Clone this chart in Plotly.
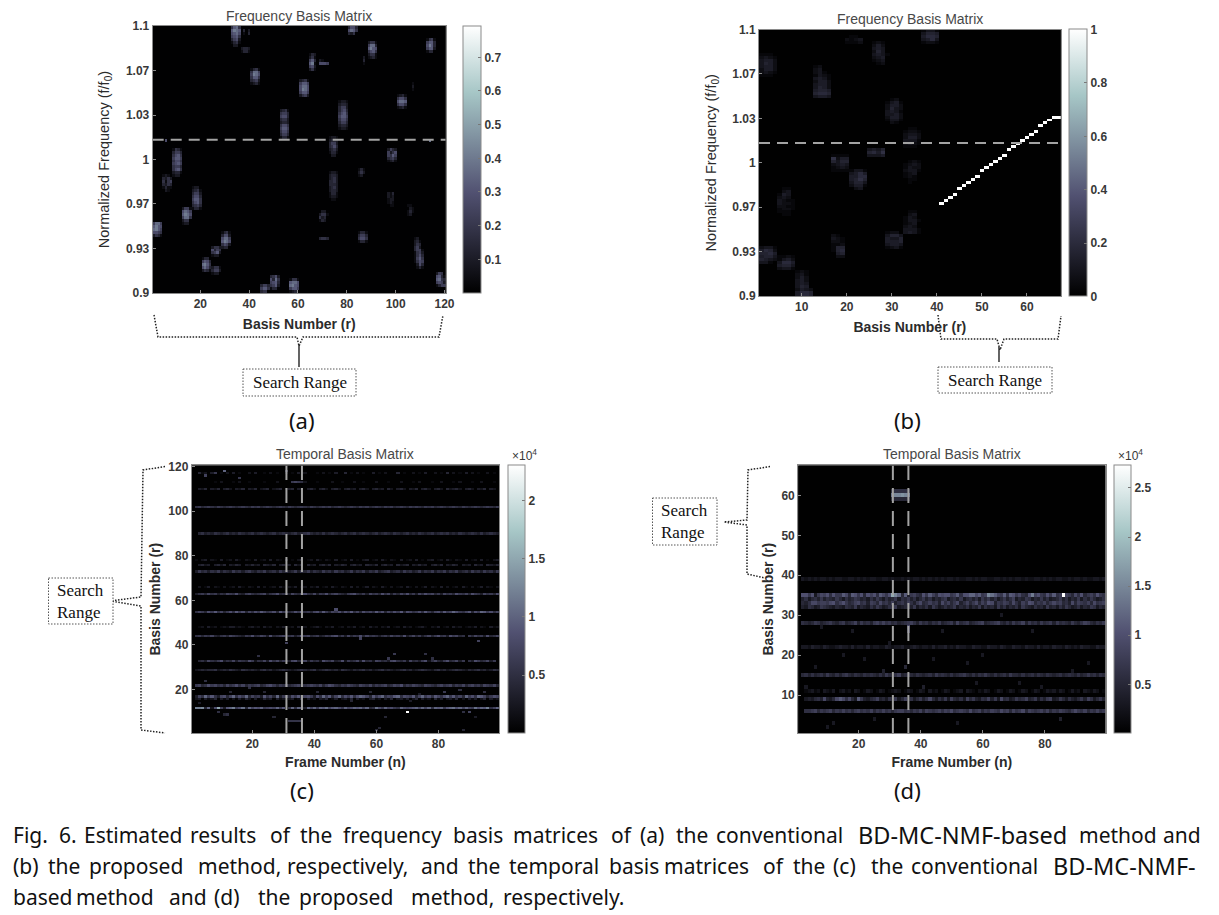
import plotly.graph_objects as go

W, H = 1219, 915

BONE = [[0, "#000000"], [0.375, "#515171"], [0.75, "#a6c6c6"], [1, "#ffffff"]]

# ---------- panel (a): frequency basis, digit = value / 0.045, rows listed top to bottom
A_BLOB_R = [33, 38, 37, 41, 65, 69, 61, 53, 77, 101, 89, 113, 81, 73, 97, 9, 5, 17, 13, 1, 29, 25, 21, 25,
            45, 49, 57, 117, 108, 73, 69, 69, 85, 85, 97, 105, 5, 113, 86, 106]
A_BLOB_BIN = [83, 87, 81, 70, 75, 77, 66, 52, 55, 62, 79, 81, 87, 46, 44, 39, 34, 28, 23, 19, 15, 12, 7, 6,
              0, 1, 0, 2, 8, 31, 24, 18, 17, 39, 29, 26, 51, 51, 77, 68]
A_BLOB_ROWS = [
    ["4784", "7987", "6786", "5674", "3562", "1341", "0220"],
    ["302", "103"],
    ["2332", "1331"],
    ["1341", "4885", "5986", "4774", "3452", "1231"],
    ["1320", "2410", "5730", "7910", "5620", "2410"],
    ["2100", "6665"],
    ["2341", "5775", "6886", "6986", "5775", "2452"],
    ["2341", "4553", "5663", "3442", "2332", "4664", "5775", "4664", "3553", "1331"],
    ["1221", "2332", "3552", "3563", "4674", "5775", "4664", "3553", "2332", "1221"],
    ["1231", "4664", "6887", "4664", "1231"],
    ["2441", "5883", "7976", "4674", "2441", "1231"],
    ["1451", "5773", "6973", "5772", "1330"],
    ["3663", "6874", "3240"],
    ["1221", "2332", "3552", "3463", "2342", "1331", "0220"],
    ["2532", "5246", "5475", "3453", "1231"],
    ["1431", "3553", "4674", "5775", "4664", "5675", "4553", "4674", "2331", "1220"],
    ["1210", "3242", "4145", "3243", "1311", "0210"],
    ["1220", "2341", "3552", "4663", "5774", "4674", "3453", "1331"],
    ["2551", "6875", "7986", "5884", "2440", "1220"],
    ["5885", "7976", "8975", "6654", "2431"],
    ["1341", "3662", "6885", "7986", "4652", "2330"],
    ["2442", "6354", "4572", "1220"],
    ["1330", "5763", "8974", "6863", "2431"],
    ["2441", "3552", "1220"],
    ["3553", "5774", "3440"],
    ["3462", "6384", "5673", "4572", "1330"],
    ["1441", "7886", "8976", "5775", "1230"],
    ["2540", "6731", "7843", "5652", "1355"],
    ["1200", "2310", "2430", "3520", "3551", "1452", "1463", "1574", "1465", "0263", "0131"],
    ["1221", "2332", "2342", "3342", "3332", "2342", "2332", "1331", "1221", "0110"],
    ["0220", "2441", "4230", "1320"],
    ["3443"],
    ["1331", "3553", "4664", "1331"],
    ["1310", "2420", "1200"],
    ["2130", "2120", "1220", "1210", "0110"],
    ["1100", "0210", "1310", "1200"],
    ["06"],
    ["08"],
    ["02", "03", "01"],
    ["01", "02", "01"],
]

# ---------- panel (b): frequency basis, digit = value / 0.032
B_BLOB_R = [1, 13, 37, 20, 26, 29, 33, 25, 17, 21, 33, 5, 33, 29, 17, 1, 5, 9]
B_BLOB_BIN = [74, 67, 85, 85, 78, 58, 50, 47, 42, 36, 38, 27, 21, 16, 13, 11, 9, 0]
B_BLOB_ROWS = [
    ["1110", "2321", "3442", "3542", "3442", "2442", "2321", "1110"],
    ["1200", "2300", "2310", "1321", "3431", "2442", "3442", "3542", "4554", "5665", "3443"],
    ["1331", "3554", "4665", "3463", "1221"],
    ["0110", "2123", "1112"],
    ["1210", "2420", "3430", "2530", "3431", "2340", "1230", "0120"],
    ["0120", "1341", "2442", "2532", "3431", "3342", "2442", "1331", "0210"],
    ["0110", "1221", "2332", "2442", "3331", "2321", "1110"],
    ["3435", "5647", "3334"],
    ["1111", "7244", "5355", "2343", "1232", "1111"],
    ["1331", "3464", "4466", "4575", "3553", "2441", "0230"],
    ["0121", "1232", "1322", "2331", "1230", "1210", "0110", "0100"],
    ["0110", "0230", "1430", "2320", "3211", "3221", "2211", "1221", "1110", "0110"],
    ["0110", "0230", "1320", "1331", "1230", "2320", "3331", "3431"],
    ["1220", "3553", "4335", "4445", "3443", "1231"],
    ["2100", "3210", "2210", "1120", "1550", "1560", "0450", "0220"],
    ["2331", "4652", "5564", "4553", "5432", "3310"],
    ["1121", "1342", "3664", "4553", "2331"],
    ["1210", "2310", "2420", "3420", "3430", "3540", "2432", "4665", "4665"],
]
B_LINE_R = [41, 42, 43, 44, 45, 46, 47, 48, 49, 50, 51, 52, 53, 54, 55, 56, 57, 58, 59, 60, 61, 62, 63, 64, 65, 66, 67]
B_LINE_BIN = [31, 32, 33, 34, 36, 37, 38, 39, 40, 42, 43, 44, 45, 46, 47, 49, 50, 51, 52, 53, 54, 55, 57, 58, 59, 60, 60]
B_LINE_VAL = [1.0] * 27

# ---------- panel (c): temporal basis, digit = value / 0.1 (x 10^4), frames 1-99 (hex)
C_R12 = "0ccd4a28f7 39ac68b4a7 98a6787a69 05a5a93a7a 6a9b79a86a 78a9a7a45b 86a7865a87 89a7a7a5a9 a69ab8a7a7 6b8a9c57a"
C_R17 = "0375a69537 847a586a47 5639574a36 7486957863 85a6947a58 6958a97496 8a5769a587 6947a68597 58a69574a6 85a974687"
C_R16 = "0230312403 1302031420 3014230312 0230140312 0324013023 1403120341 2031402313 0240312041 3023140203 130240312"
C_R22 = "0674586756 4756857465 6745786465 7456745676 5746875465 7654765746 5674576846 5765476546 7567465746 756476574"
C_R29 = "0234344523 4354325434 3245342345 4323454345 2345434254 3243453423 4534323453 4234543245 3423454324 345342354"
C_R33 = "0045375468 3547365486 2547385746 5378457364 5286573482 6457384527 6453785462 7453682574 3684573605 386457360"
C_R44 = "0564657435 6476543658 4576384567 4563586745 6346578463 7465847565 3564756483 5746357468 5638674506 475638457"
C_R48 = "0012031201 2130121023 1203120213 0120312012 3102130120 2130120312 0213012031 2012310213 0120312012 130210312"
C_R55 = "0576486957 4685968475 8697568496 7458695647 8596476858 6957486759 6847586948 7568596478 5967a86579 486a96857"
C_R63 = "0356475635 4765843675 4567356845 6375468547 3658467543 6785463756 4857364758 4637586746 3756486574 865375648"
C_R66 = "0020130210 2012031021 0302012031 0213012021 3012031021 0302013021 0310201203 1020130210 3020120310 201302102"
C_R73 = "0364535463 5436453564 3546345364 5346354635 4364536453 4635463546 3456345364 5346354635 4635463453 645364536"
C_R76 = "0034230342 4032430324 2304324034 2304230423 0342403243 0342304324 0342304234 0324230342 4032430323 042304324"
C_R78 = "0102302103 0120310210 3012030210 3010230120 3102103012 0301023012 0310210301 2030102301 2031021030 120301023"
C_R90 = "0045343543 4534354345 3454345345 4345345643 4353454345 3453454345 3454354345 3435434534 5453435434 543534543"
C_R102 = "0564565465 4565456546 5645654565 4654565465 4565645654 5654656456 5465645654 6565465645 6545654654 565456546"
C_R110 = "0032403240 3420324032 4023402340 2340320342 0342034203 4230342034 2304203420 3240342034 2042342034 203240320"
C_R113 = "0000000102 0001020010 0001000200 0000102000 1000020010 0020010002 0001000200 0102000100 2000102000 100200010"
C_R117 = "0041203601 0203010020 3001020100 2010302000 1020103004 0102010030 1020004010 0201030020 1040201030 201002010"
C_ROWS = [12, 17, 16, 22, 29, 33, 44, 48, 55, 63, 66, 73, 76, 78, 90, 102, 110, 113, 117]
C_STRINGS = [C_R12, C_R17, C_R16, C_R22, C_R29, C_R33, C_R44, C_R48, C_R55, C_R63, C_R66, C_R73, C_R76, C_R78,
             C_R90, C_R102, C_R110, C_R113, C_R117]
C_SPOT_N = [70, 32, 33, 34, 35, 36, 31, 5, 11, 16, 47, 55, 61, 66, 78, 90, 93, 33, 34, 35, 36, 9, 12, 19, 24, 27,
            41, 52, 58, 60, 63, 71, 74, 82, 87, 88, 95, 22, 14, 3, 64, 76, 5, 11, 13, 31, 88, 92]
C_SPOT_R = [10, 6, 6, 6, 6, 6, 118, 116, 118, 115, 56, 43, 3, 36, 34, 10, 42, 113, 113, 113, 113, 10, 9, 21, 19, 8,
            19, 15, 19, 2, 8, 15, 18, 19, 20, 10, 19, 35, 48, 14, 34, 36, 24, 9, 19, 41, 2, 8]
C_SPOT_V = [2.3, 0.55, 0.55, 0.55, 0.55, 0.55, 0.6, 0.7, 1.0, 0.6, 0.8, 0.7, 0.4, 0.6, 0.5, 0.7, 0.7, 0.6, 0.7, 0.6,
            0.5, 0.5, 0.5, 0.5, 0.4, 0.4, 0.4, 0.4, 0.4, 0.4, 0.4, 0.3, 0.3, 0.6, 0.5, 0.5, 0.5, 0.5, 0.3, 0.3, 0.6,
            0.5, 0.5, 0.4, 0.4, 0.7, 0.4, 0.3]

# ---------- panel (d): temporal basis
D_R6 = "0066785767 8576867578 6768576867 5788675768 5876786879 6787696785 7687697858 6795876786 8576876579 768576867"
D_R9 = "0034356494 3594969534 7435684536 4735846357 4695364738 5463857436 5847395634 7568457364 7834753643 574863574"
D_R11 = "0012312032 1302312032 0132013201 2320132013 2031201320 1230321021 3201320132 0132013201 3201320131 203213201"
D_R15 = "0564645647 5464675465 4656546475 4684565465 4564756546 4567546465 7546456475 5464564654 6545645654 645756465"
D_R22 = "0332433243 2234332423 3242332243 2334223432 3324233423 2433224332 2433243224 3324332423 3243324323 243322433"
D_R28 = "0654576456 7546745684 7564786867 5645678647 5646574567 4856745678 4567854647 5684756475 6747565475 468754657"
D_R32 = "0436534765 4354365473 5436475346 5734564735 4637534645 7354635473 6453746354 6375436453 7453647534 635476354"
D_R33 = "0546997887 9a68a75689 6748759675 8467586479 5686749685 7946857958 6a94768759 6486a95768 5797856495 876859678"
D_R34 = "0463564746 5475364576 4536475364 5736574635 7463546735 6473564637 5746357468 3547635474 6345746354 736475346"
D_R35 = "0aa7a3798a 6a77b95ba7 a5a8a6b97a 7fa5b47865 a7b86a9aa7 8b6aacc9b7 8a9b87b6ba 7965ae8a76 a7b6748759 6a5786a76"
D_R39 = "0323232332 3233223323 2323322332 3223232332 3232323233 2322332323 3223323232 3323223323 2323322323 323223323"
D_R59 = "0000000000 0000000000 0000000000 5555550000 0000000000 0000000000 0000000000 0000000000 0000000000 000000000"
D_R60 = "0000000000 0000000000 0000000000 dffgfd0000 0000000000 0000000000 0000000000 0000000000 0000000000 000000000"
D_R61 = "0000000000 0000000000 0000000000 5666650000 0000000000 0000000000 0000000000 0000000000 0000000000 000000000"
D_ROWS = [6, 9, 11, 15, 22, 28, 32, 33, 34, 35, 39, 59, 60, 61]
D_STRINGS = [D_R6, D_R9, D_R11, D_R15, D_R22, D_R28, D_R32, D_R33, D_R34, D_R35, D_R39, D_R59, D_R60, D_R61]
D_SPOT_N = [86, 31, 62, 63, 14, 20, 36, 36, 33, 12, 25, 41, 8, 18, 44, 55, 60, 72, 85, 6, 28, 30, 47, 66, 79, 89, 94,
            10, 22, 52, 35, 3, 15, 58, 76, 83]
D_SPOT_R = [35, 35, 35, 35, 9, 9, 27, 26, 35, 3, 4, 12, 27, 26, 19, 18, 20, 13, 4, 17, 16, 23, 26, 30, 12, 16, 18,
            2, 19, 3, 17, 12, 20, 13, 26, 11]
D_SPOT_V = [2.72, 1.8, 1.5, 1.3, 1.1, 1.1, 0.9, 0.8, 1.2, 0.3, 0.3, 0.4, 0.3, 0.3, 0.3, 0.3, 0.3, 0.3, 0.4, 0.3, 0.4,
            0.3, 0.3, 0.3, 0.3, 0.3, 0.3, 0.3, 0.3, 0.3, 0.5, 0.3, 0.3, 0.3, 0.3, 0.3]

# tick labels and annotations
FREQ_TICKS = [0.9, 0.9333, 0.9667, 1.0, 1.0333, 1.0667, 1.1]
FREQ_LABELS = ["0.9", "0.93", "0.97", "1", "1.03", "1.07", "1.1"]
A_CB_TICKS = [0.1, 0.2, 0.3, 0.4, 0.5, 0.6, 0.7]
B_CB_TICKS = [0, 0.2, 0.4, 0.6, 0.8, 1]
C_CB_TICKS = [0.5, 1, 1.5, 2]
D_CB_TICKS = [0.5, 1, 1.5, 2, 2.5]
FREQ_DASH = 1.0148
FRAME_DASH = [31, 36]

CAPTION_WORDS = [
    ["Fig.", "6.", "Estimated", "results", "of", "the", "frequency", "basis", "matrices", "of", "(a)", "the",
     "conventional", "BD-MC-NMF-based", "method", "and"],
    ["(b)", "the", "proposed", "method,", "respectively,", "and", "the", "temporal", "basis", "matrices", "of",
     "the", "(c)", "the", "conventional", "BD-MC-NMF-"],
    ["based", "method", "and", "(d)", "the", "proposed", "method,", "respectively."],
]
CAPTION_X = [
    [12, 58, 83, 189, 269, 299, 342, 452, 512, 610, 639, 675, 715, 857, 1078, 1162],
    [12, 47, 88, 197, 286, 420, 467, 508, 608, 663, 762, 792, 832, 870, 910, 1052],
    [12, 75, 168, 213, 257, 298, 410, 502],
]
CAPTION_Y = [835, 866, 897]

# ---------- helpers
def px(x):
    return x / W

def py(y):
    return 1 - y / H

def blobs(nr, nb, rs, bins, rows_list, unit):
    z = [[0.004 for _ in range(nr)] for _ in range(nb)]
    for r0, b0, rows in zip(rs, bins, rows_list):
        top = b0 + len(rows) - 1
        for i, row in enumerate(rows):
            for j, ch in enumerate(row):
                rr, bb = r0 - 1 + j, top - i
                if 0 <= rr < nr and 0 <= bb < nb:
                    z[bb][rr] = max(z[bb][rr], int(ch) * unit)
    return z

def temporal(nf, nr, rows, strings, sn, sr, sv):
    z = [[0.01 for _ in range(nf)] for _ in range(nr)]
    for r, s in zip(rows, strings):
        s = s.replace(" ", "")
        for j, ch in enumerate(s[:nf]):
            z[r - 1][j] = max(0.01, int(ch, 36) * 0.1)
    for n, r, v in zip(sn, sr, sv):
        z[r - 1][n - 1] = v
    return z

Z_A = blobs(120, 90, A_BLOB_R, A_BLOB_BIN, A_BLOB_ROWS, 0.045)
Z_B = blobs(67, 90, B_BLOB_R, B_BLOB_BIN, B_BLOB_ROWS, 0.032)
for r, b, v in zip(B_LINE_R, B_LINE_BIN, B_LINE_VAL):
    Z_B[b][r - 1] = v
Z_C = temporal(99, 120, C_ROWS, C_STRINGS, C_SPOT_N, C_SPOT_R, C_SPOT_V)
Z_D = temporal(99, 67, D_ROWS, D_STRINGS, D_SPOT_N, D_SPOT_R, D_SPOT_V)

PANELS = [
    dict(name="a", box=(152.7, 445.7, 26, 293), cb=(463, 480.7), z=Z_A, zr=(0.0, 0.793), cbt=A_CB_TICKS,
         xr=(0.5, 120.5), yr=(0.9, 1.1), freq=True),
    dict(name="b", box=(759, 1060.7, 29.5, 296), cb=(1069, 1086.5), z=Z_B, zr=(0.0, 1.0), cbt=B_CB_TICKS,
         xr=(0.5, 67.5), yr=(0.9, 1.1), freq=True),
    dict(name="c", box=(191.8, 499, 465.4, 733), cb=(507.5, 524), z=Z_C, zr=(0.0, 2.3), cbt=C_CB_TICKS,
         xr=(0.5, 99.5), yr=(0.5, 120.5), freq=False),
    dict(name="d", box=(798.2, 1105.5, 465.4, 733), cb=(1113.6, 1131), z=Z_D, zr=(0.0, 2.73), cbt=D_CB_TICKS,
         xr=(0.5, 99.5), yr=(0.5, 67.5), freq=False),
]

TICK_FONT = dict(family="Liberation Sans", size=12, color="#383838", weight=700)
fig = go.Figure()
layout = dict(
    width=W, height=H, margin=dict(l=0, r=0, t=0, b=0, autoexpand=False),
    paper_bgcolor="white", plot_bgcolor="black", showlegend=False,
    font=dict(family="Liberation Sans", color="#383838"),
)
shapes, annotations = [], []

for k, p in enumerate(PANELS, start=1):
    x0, x1, y0, y1 = p["box"]
    xid, yid = f"xaxis{k}", f"yaxis{k}"
    xa, ya = f"x{k}", f"y{k}"
    nrows, ncols = len(p["z"]), len(p["z"][0])
    if p["freq"]:
        yvals = [0.9 + (i + 0.5) * 0.2 / 90 for i in range(nrows)]
    else:
        yvals = list(range(1, nrows + 1))
    fig.add_trace(go.Heatmap(
        z=p["z"], x=list(range(1, ncols + 1)), y=yvals, xaxis=xa, yaxis=ya,
        colorscale=BONE, zmin=p["zr"][0], zmax=p["zr"][1], hoverinfo="skip",
        colorbar=dict(
            x=px(p["cb"][0]), xanchor="left", xpad=0, y=py(y0), yanchor="top", ypad=0,
            len=y1 - y0, lenmode="pixels", thickness=p["cb"][1] - p["cb"][0], thicknessmode="pixels",
            tickmode="array", tickvals=p["cbt"], ticktext=[f"{t:g}" for t in p["cbt"]],
            ticks="inside", ticklen=3, tickcolor="#777777",
            tickfont=TICK_FONT,
            outlinecolor="#8a8a8a", outlinewidth=1,
        ),
    ))
    axis_common = dict(showgrid=False, zeroline=False, showline=True, mirror=True, linecolor="#8a8a8a",
                       linewidth=1, ticks="inside", ticklen=3, tickcolor="#8a8a8a", tickfont=TICK_FONT)
    xtv = {"a": [20, 40, 60, 80, 100, 120], "b": [10, 20, 30, 40, 50, 60], "c": [20, 40, 60, 80], "d": [20, 40, 60, 80]}[p["name"]]
    ytv = {"c": [20, 40, 60, 80, 100, 120], "d": [10, 20, 30, 40, 50, 60]}.get(p["name"], FREQ_TICKS)
    ytt = FREQ_LABELS if p["freq"] else [str(v) for v in ytv]
    xaxis = dict(axis_common, domain=[px(x0), px(x1)], range=list(p["xr"]), tickmode="array", tickvals=xtv,
                 ticktext=[str(v) for v in xtv], anchor=ya,
                 title=dict(text="<b>Basis Number (r)</b>" if p["freq"] else "<b>Frame Number (n)</b>",
                            font=dict(family="Liberation Sans", size=14, color="#2b2b2b"),
                            standoff=8 if p["freq"] else 6))
    yaxis = dict(axis_common, domain=[py(y1), py(y0)], range=list(p["yr"]), tickmode="array", tickvals=ytv,
                 ticktext=ytt, anchor=xa,
                 title=dict(text="Normalized Frequency (f/f<sub>0</sub>)" if p["freq"] else "<b>Basis Number (r)</b>",
                            font=dict(family="Liberation Sans", size=14.5 if p["freq"] else 14, color="#2b2b2b"),
                            standoff=12 if p["freq"] else 4))
    layout[xid] = xaxis
    layout[yid] = yaxis
    annotations.append(dict(text="Frequency Basis Matrix" if p["freq"] else "Temporal Basis Matrix",
                            x=px((x0 + x1) / 2), y=py(y0 - (10 if p["freq"] else 11)), xref="paper", yref="paper",
                            showarrow=False, xanchor="center", yanchor="middle",
                            font=dict(family="Liberation Sans", size=14, color="#484848")))
    dash_style = dict(color="#a3a3a3", width=2)
    if p["freq"]:
        shapes.append(dict(type="line", xref=xa, yref=ya, x0=p["xr"][0], x1=p["xr"][1], y0=FREQ_DASH, y1=FREQ_DASH,
                           line=dict(dash_style, dash="11px,7px")))
    else:
        for f in FRAME_DASH:
            shapes.append(dict(type="line", xref=xa, yref=ya, x0=f, x1=f, y0=p["yr"][0], y1=p["yr"][1],
                               line=dict(dash_style, dash="15px,8px")))
    if not p["freq"]:
        annotations.append(dict(text="×10<sup>4</sup>", x=px(p["cb"][0] + 17), y=py(y0 - 10), xref="paper", yref="paper",
                                showarrow=False, xanchor="center", yanchor="middle",
                                font=dict(family="Liberation Sans", size=12, color="#383838")))

# Search Range callouts: dotted braces and boxes, in page pixels
def path_px(points):
    return "M " + " L ".join(f"{px(a):.5f},{py(b):.5f}" for a, b in points)

BRACES = [
    [(154, 315), (158, 337), (158.5, 337), (297, 337), (299, 346), (303, 337), (439, 337), (443, 315)],
    [(938, 315), (941, 339), (997, 339), (1000, 350), (1004, 339), (1058, 339), (1061, 316)],
    [(165, 466.5), (143, 470), (141, 597), (110, 601), (141, 606), (141, 730), (165, 733)],
    [(770, 466.5), (748, 470), (747, 520), (724, 522), (747, 525), (747, 574), (765, 578)],
]
STEMS = [
    [(299, 345), (299, 367)],
    [(999, 347), (999, 362)],
]
BOXES = [(243, 369, 356, 396), (938, 367, 1052, 393), (48.5, 578, 113, 624), (652.5, 498, 717, 545)]
BOX_TEXT = ["Search Range", "Search Range", "Search<br>Range", "Search<br>Range"]
for pts in BRACES:
    shapes.append(dict(type="path", xref="paper", yref="paper", path=path_px(pts),
                       line=dict(color="#222222", width=1.5, dash="1.5px,1.5px")))
for pts in STEMS:
    shapes.append(dict(type="path", xref="paper", yref="paper", path=path_px(pts),
                       line=dict(color="#222222", width=1.4)))
for (bx0, by0, bx1, by1), t in zip(BOXES, BOX_TEXT):
    shapes.append(dict(type="rect", xref="paper", yref="paper", x0=px(bx0), x1=px(bx1), y0=py(by0), y1=py(by1),
                       line=dict(color="#555555", width=1, dash="1.5px,1.5px"), fillcolor="white"))
    annotations.append(dict(text=t, x=px((bx0 + bx1) / 2), y=py((by0 + by1) / 2), xref="paper", yref="paper",
                            showarrow=False, xanchor="center", yanchor="middle", align="left",
                            font=dict(family="Liberation Serif", size=17, color="#111111")))

for label, cx, cy in [("(a)", 302, 420), ("(b)", 907, 420), ("(c)", 302, 790), ("(d)", 907, 790)]:
    annotations.append(dict(text=label, x=px(cx), y=py(cy), xref="paper", yref="paper", showarrow=False,
                            xanchor="center", yanchor="middle",
                            font=dict(family="Noto Sans", size=22, color="#111111")))

for words, xs, y in zip(CAPTION_WORDS, CAPTION_X, CAPTION_Y):
    for w, x in zip(words, xs):
        annotations.append(dict(text=w, x=px(x), y=py(y), xref="paper", yref="paper", showarrow=False,
                                xanchor="left", yanchor="middle", xshift=-1,
                                font=dict(family="Noto Sans", size=23.5 if w.startswith("BD") else 21, color="#111111")))

layout["shapes"] = shapes
layout["annotations"] = annotations
fig.update_layout(**layout)
fig.write_html("out.html", config=dict(displayModeBar=False),
               post_script="document.body.style.margin='0';document.body.style.overflow='hidden';")
